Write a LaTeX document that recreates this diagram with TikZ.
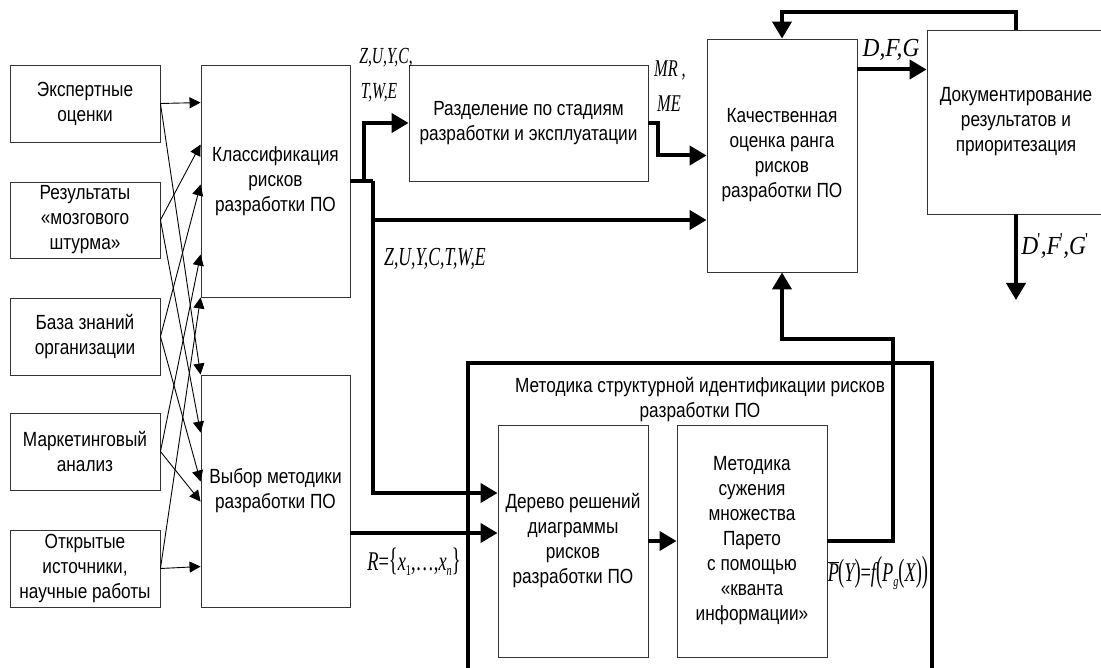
\documentclass[tikz,border=0pt]{standalone}
\usepackage{fontspec}
\usepackage{graphicx}
\setmainfont{Liberation Sans}[FakeStretch=0.84]
\newfontfamily\labf{Liberation Serif}[FakeStretch=0.68]
\newfontfamily\labg{Liberation Serif}[FakeStretch=0.9]
\usetikzlibrary{arrows.meta}
\newcommand\lsub[1]{\raisebox{-0.4ex}{\fontsize{15}{15}\selectfont #1}}
\tikzset{
  box/.style={draw=black!80, line width=0.9pt, align=center, inner sep=0pt,
    font=\fontsize{20.5}{25}\selectfont},
  thin/.style={-{Triangle[length=11pt,width=11pt]}, line width=0.9pt},
  thk/.style={line width=4pt},
  thkarr/.style={thk, -{Triangle[length=17pt,width=19pt]}},
  lab/.style={inner sep=0pt},
}
\begin{document}
\begin{tikzpicture}[x=1pt,y=-1pt]
\useasboundingbox (0,0) rectangle (1101,668);
\clip (0,0) rectangle (1101,668);
\fill[white] (0,0) rectangle (1101,668);

% left input boxes
\node[box, minimum width=150pt, minimum height=77pt] (e1) at (85,103.5) {Экспертные\\оценки};
\node[box, minimum width=150pt, minimum height=76pt] (e2) at (85,220) {Результаты\\«мозгового\\штурма»};
\node[box, minimum width=150pt, minimum height=77pt] (e3) at (85,336.5) {База знаний\\организации};
\node[box, minimum width=150pt, minimum height=77pt] (e4) at (85,451.5) {Маркетинговый\\анализ};
\node[box, minimum width=150pt, minimum height=77pt] (e5) at (85,568.5) {Открытые\\источники,\\научные работы};

% main boxes
\node[box, minimum width=149pt, minimum height=232pt] (cls) at (275.5,181) {Классификация\\рисков\\разработки ПО};
\node[box, minimum width=149pt, minimum height=232pt] (vyb) at (275.5,491) {Выбор методики\\разработки ПО};
\node[box, minimum width=239pt, minimum height=116pt] (razd) at (528.5,123) {Разделение по стадиям\\разработки и эксплуатации};
\node[box, minimum width=150pt, minimum height=233pt] (kach) at (782,155.5) {Качественная\\оценка ранга\\рисков\\разработки ПО};
\node[box, minimum width=178pt, minimum height=184pt] (doc) at (1016,122) {Документирование\\результатов и\\приоритезация};
\node[box, minimum width=150pt, minimum height=232pt] (der) at (573,541) {Дерево решений\\диаграммы\\рисков\\разработки ПО};
\node[box, minimum width=150pt, minimum height=232pt] (sug) at (752,541) {Методика\\сужения\\множества\\Парето\\с помощью\\«кванта\\информации»};

% frame
\draw[thk] (468,700) -- (468,363) -- (932,363) -- (932,700);
\node[align=center, inner sep=0pt, font=\fontsize{20.5}{25}\selectfont] (title) at (700,400)
  {Методика структурной идентификации рисков\\разработки ПО};

% thin arrows to classification
\draw[thin] (e1.east) -- ([yshift=-38pt]cls.north west);
\draw[thin] (e2.east) -- ([yshift=-80pt]cls.north west);
\draw[thin] (e3.east) -- ([yshift=-120pt]cls.north west);
\draw[thin] (e4.east) -- ([yshift=-190pt]cls.north west);
\draw[thin] (e5.east) -- (cls.south west);
% thin arrows to method choice
\draw[thin] (e1.east) -- (vyb.north west);
\draw[thin] (e2.east) -- ([yshift=-58pt]vyb.north west);
\draw[thin] (e3.east) -- ([yshift=-107pt]vyb.north west);
\draw[thin] (e4.east) -- ([yshift=-127pt]vyb.north west);
\draw[thin] (e5.east) -- ([yshift=-192pt]vyb.north west);

% thick connectors
\coordinate (j1) at (364,181);
\coordinate (j2) at (373,181);
\coordinate (j3) at (373,220);
\coordinate (v1) at ([yshift=-42pt]vyb.east);
\coordinate (k1) at ([yshift=86pt]kach.east);
\coordinate (out) at (1016,300);
\coordinate (f1) at (893,339);
\coordinate (f0) at (893,541);
\draw[thk] (cls.east) -- (j2);
\draw[thkarr] (j1) |- (razd.west);
\draw[thkarr] (j2) |- ([yshift=48pt]der.west);
\draw[thkarr] (j3) -- (j3 -| kach.west);
\draw[thkarr] (v1) -- (v1 -| der.west);
\draw[thkarr] (razd.east) -- ++(10,0) |- (kach.west);
\draw[thkarr] (k1) -- (k1 -| doc.west);
\draw[thkarr] (doc.north) -- ++(0,-18) -| (kach.north);
\draw[thkarr] (doc.south) -- (out);
\draw[thkarr] (der.east) -- (sug.west);
\draw[thkarr] (sug.east) -- (f0) -- (f1) -| (kach.south);

% labels
\node[lab, font=\labf\itshape\fontsize{23}{23}\selectfont] (l1) at (386,58) {Z,U,Y,C,};
\node[lab, font=\labf\itshape\fontsize{23}{23}\selectfont] (l2) at (379,93) {T,W,E};
\node[lab, font=\labf\itshape\fontsize{24}{24}\selectfont] (l3) at (670,70) {MR\,,};
\node[lab, font=\labf\itshape\fontsize{24}{24}\selectfont] (l4) at (669,104) {ME};
\node[lab, font=\labf\itshape\fontsize{26}{26}\selectfont] (l5) at (435,259) {Z,U,Y,C,T,W,E};
\node[lab, font=\labg\itshape\fontsize{26}{26}\selectfont] (l6) at (891,50) {D,F,G};
\node[lab, font=\labg\itshape\fontsize{26}{26}\selectfont] (l7) at (1055,246) {D\textsuperscript{\upshape\kern-1pt'},F\textsuperscript{\upshape\kern-1pt'},G\textsuperscript{\upshape\kern-1pt'}};
\node[lab, font=\labf\itshape\fontsize{27}{27}\selectfont] (l8) at (414,562)
  {R{\upshape=}\scalebox{1}[1.2]{\upshape\{}x\lsub{\upshape 1}{\upshape,…,}x\lsub{n}\scalebox{1}[1.2]{\upshape\}}};
\node[lab, font=\labf\itshape\fontsize{27}{27}\selectfont] (l9) at (878,573)
  {$\overline{\hbox{\labf\itshape\fontsize{27}{27}\selectfont P}}$\kern-1pt\scalebox{1}[1.2]{\upshape(}Y\scalebox{1}[1.2]{\upshape)}{\upshape=}f\scalebox{1}[1.35]{\upshape(}P\lsub{g}\scalebox{1}[1.2]{\upshape(}X\scalebox{1}[1.2]{\upshape)}\scalebox{1}[1.35]{\upshape)}};
\end{tikzpicture}
\end{document}
